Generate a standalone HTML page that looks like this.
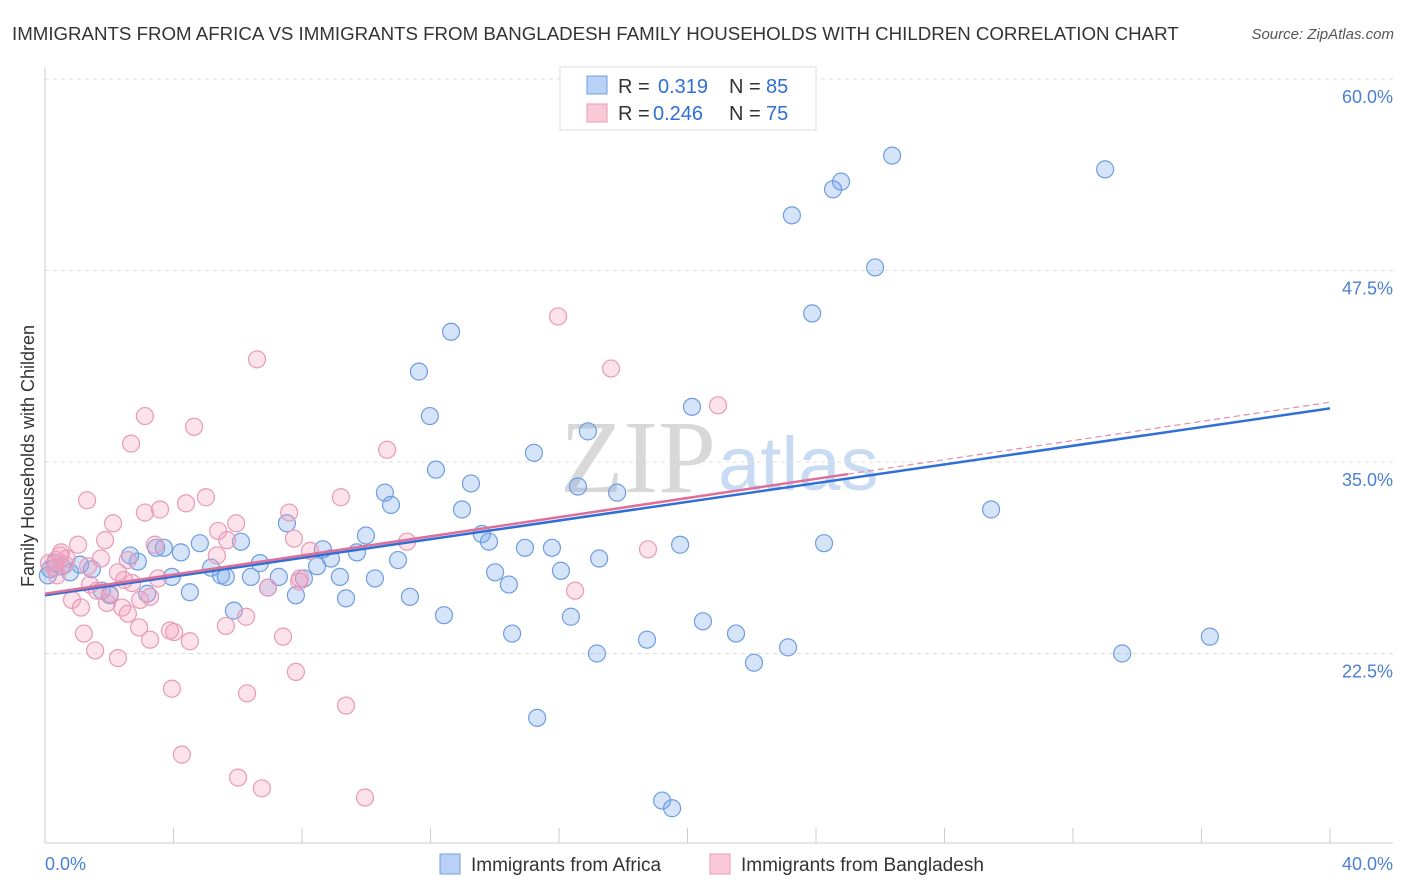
<!DOCTYPE html>
<html><head><meta charset="utf-8"><style>
body{margin:0;background:#fff;font-family:"Liberation Sans",sans-serif;}
#wrap{position:relative;width:1406px;height:892px;overflow:hidden;}
</style></head><body>
<div id="wrap">
<svg id="svg" width="1406" height="892" xmlns="http://www.w3.org/2000/svg">
<text x="12" y="40" font-size="18.7" fill="#333">IMMIGRANTS FROM AFRICA VS IMMIGRANTS FROM BANGLADESH FAMILY HOUSEHOLDS WITH CHILDREN CORRELATION CHART</text>
<text x="1394" y="39" font-size="15" fill="#555" text-anchor="end" font-style="italic">Source: ZipAtlas.com</text>
<text x="716" y="492" font-size="104" fill="#d8d8d8" text-anchor="end" font-family="Liberation Serif">ZIP</text>
<text x="718" y="490" font-size="76" fill="#c9dbf2">atlas</text>
<text transform="translate(34,456) rotate(-90)" font-size="18" fill="#333" text-anchor="middle">Family Households with Children</text>
<g id="grid"></g><g id="marks"></g>
</svg>
</div>
<script>
const yTicks=[60,47.5,35,22.5];
const yTickLabels=["60.0%","47.5%","35.0%","22.5%"];
const xTicks=[0,4,8,12,16,20,24,28,32,36,40];
const africaX=[26.37,33.0,24.78,24.53,23.25,25.84,23.88,12.64,11.64,11.98,20.14,16.9,15.22,12.17,13.26,10.58,16.59,17.81,10.77,12.98,29.45,7.53,9.99,13.6,13.82,19.77,24.25,6.1,4.82,3.46,4.23,2.65,3.7,8.65,9.71,14.94,15.78,17.25,10.99,8.9,6.69,2.89,5.17,8.47,5.48,5.63,6.41,7.28,8.06,9.18,10.27,14.01,16.06,3.95,1.46,0.53,0.09,0.78,0.31,1.09,1.77,2.02,4.51,3.18,6.94,7.81,9.37,11.36,14.44,5.88,12.42,16.37,20.48,14.54,21.51,18.74,17.18,23.13,22.07,33.53,36.26,15.32,19.21,19.52,0.16];
const africaY=[55.0,54.1,53.3,52.8,51.1,47.7,44.7,43.5,40.9,38.0,38.6,37.0,35.6,34.5,33.6,33.0,33.4,33.0,32.2,31.9,31.9,31.0,30.2,30.3,29.8,29.6,29.7,29.8,29.7,29.4,29.1,28.9,29.4,29.3,29.1,29.4,29.4,28.7,28.6,28.7,28.4,28.5,28.1,28.2,27.6,27.5,27.5,27.5,27.4,27.5,27.4,27.8,27.9,27.5,28.0,28.2,27.6,27.8,28.4,28.3,26.6,26.3,26.5,26.4,26.8,26.3,26.1,26.2,27.0,25.3,25.0,24.9,24.6,23.8,23.8,23.4,22.5,22.9,21.9,22.5,23.6,18.3,12.9,12.4,28.0];
const bangX=[15.97,6.6,17.62,20.95,3.11,4.64,2.68,10.65,1.31,5.01,4.39,9.21,3.58,3.11,7.6,5.95,2.12,5.39,5.67,7.75,11.27,1.87,1.03,3.42,18.77,8.25,0.5,1.74,0.68,2.58,0.34,0.12,1.34,2.27,3.52,7.94,7.91,2.71,1.4,2.46,3.27,0.84,1.93,1.12,16.5,6.94,2.4,2.58,6.26,2.93,5.63,4.02,1.21,3.89,3.27,4.51,7.41,1.56,2.27,3.95,6.29,7.81,9.37,4.26,6.01,6.75,9.96,0.37,0.62,0.31,0.47,1.62,2.02,5.35,2.96];
const bangY=[44.5,41.7,41.1,38.7,38.0,37.3,36.2,35.8,32.5,32.7,32.3,32.7,31.9,31.7,31.7,31.0,31.0,30.5,29.9,30.0,29.8,29.9,29.6,29.6,29.3,29.2,29.1,28.7,28.7,28.6,28.6,28.4,28.2,27.8,27.4,27.4,27.2,27.1,27.0,27.3,26.2,26.0,25.8,25.5,26.6,26.8,25.5,25.1,24.9,24.2,24.3,23.9,23.8,24.0,23.4,23.3,23.6,22.7,22.2,20.2,19.9,21.3,19.1,15.9,14.4,13.7,13.1,27.6,28.3,28.1,28.9,26.6,26.4,28.9,26.0];
const africaTrend=[26.3,38.5];
const bangTrend=[26.4,38.9];
const bangSolidEnd=25;
const X=v=>45+v*32.125, Y=v=>79+(60-v)*15.32;
const NS="http://www.w3.org/2000/svg";
function mk(tag,attrs,parent){const e=document.createElementNS(NS,tag);for(const k in attrs)e.setAttribute(k,attrs[k]);parent.appendChild(e);return e;}
const grid=document.getElementById('grid'), marks=document.getElementById('marks');
yTicks.forEach((t,i)=>{
 const l=mk('line',{x1:45,x2:1393,y1:Y(t),y2:Y(t),stroke:'#ddd','stroke-dasharray':'4,4'},grid);
 
 
 const tx=mk('text',{x:1393,y:Y(t)+24,'font-size':18,fill:'#4a7fd6','text-anchor':'end'},grid);
 tx.textContent=yTickLabels[i];
 
 
});
const ax=mk('line',{x1:45,x2:45,y1:67,y2:843,stroke:'#ccc'},grid);


const bx=mk('line',{x1:45,x2:1393,y1:843,y2:843,stroke:'#ccc'},grid);


xTicks.forEach(t=>{const l=mk('line',{x1:X(t),x2:X(t),y1:828,y2:843,stroke:'#ccc'},grid);
 
 });
function pts(xs,ys,fill,stroke,name){xs.forEach((x,i)=>{const c=mk('circle',{cx:X(x),cy:Y(ys[i]),r:8.5,fill:fill,stroke:stroke,'stroke-width':1.2},marks);
 
 });}
pts(africaX,africaY,'rgba(120,165,235,0.3)','#6d9de0','africa-point');
pts(bangX,bangY,'rgba(245,160,190,0.3)','#e89ab6','bangladesh-point');
const ta=mk('line',{x1:X(0),y1:Y(africaTrend[0]),x2:X(40),y2:Y(africaTrend[1]),stroke:'#2f6fd6','stroke-width':2.5},marks);


const pm=bangTrend[0]+(bangTrend[1]-bangTrend[0])*bangSolidEnd/40;
const tb=mk('line',{x1:X(0),y1:Y(bangTrend[0]),x2:X(bangSolidEnd),y2:Y(pm),stroke:'#de6f98','stroke-width':2.5},marks);


const td=mk('line',{x1:X(bangSolidEnd),y1:Y(pm),x2:X(40),y2:Y(bangTrend[1]),stroke:'#e58aab','stroke-width':1.2,'stroke-dasharray':'6,4'},marks);


</script>
<svg style="position:absolute;left:0;top:0" width="1406" height="892" xmlns="http://www.w3.org/2000/svg">
<g font-size="20">
<rect x="560" y="67" width="256" height="63" fill="#fff" stroke="#ddd"/>
<rect x="587" y="76" width="20" height="18" fill="#b9d1f5" stroke="#6d9de0"/>
<text x="618" y="93" fill="#333">R =</text><text x="658" y="93" fill="#2f6fd6">0.319</text>
<text x="729" y="93" fill="#333">N =</text><text x="766" y="93" fill="#2f6fd6">85</text>
<rect x="587" y="104" width="20" height="18" fill="#f9c9d8" stroke="#e89ab6"/>
<text x="618" y="120" fill="#333">R =</text><text x="653" y="120" fill="#2f6fd6">0.246</text>
<text x="729" y="120" fill="#333">N =</text><text x="766" y="120" fill="#2f6fd6">75</text>
</g>
<text x="45" y="870" font-size="18" fill="#4a7fd6">0.0%</text>
<text x="1393" y="870" font-size="18" fill="#4a7fd6" text-anchor="end">40.0%</text>
<g>
<rect x="440" y="854" width="20" height="20" fill="#b9d1f5" stroke="#6d9de0"/>
<text x="471" y="871" font-size="19" fill="#333">Immigrants from Africa</text>
<rect x="710" y="854" width="20" height="20" fill="#f9c9d8" stroke="#e89ab6"/>
<text x="741" y="871" font-size="19" fill="#333">Immigrants from Bangladesh</text>
</g>
</svg>
</body></html>
